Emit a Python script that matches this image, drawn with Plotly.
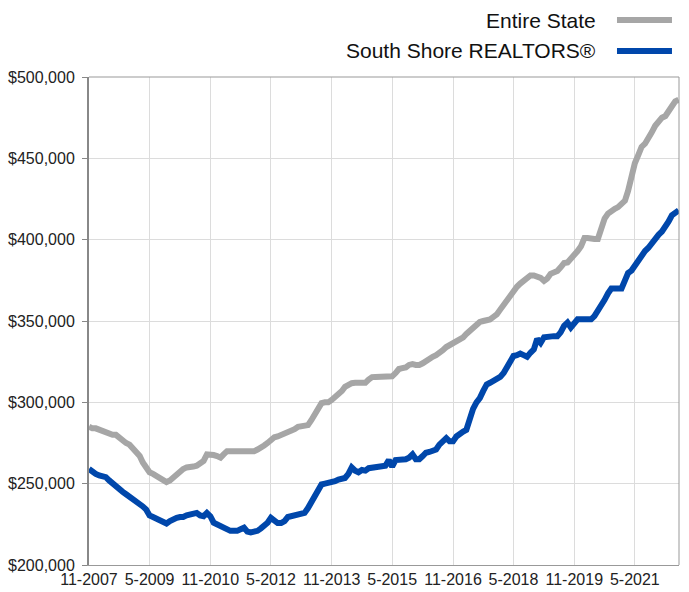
import pandas as pd
import plotly.graph_objects as go

# Monthly median price, Nov 2007 .. Jun 2022 (thousands of $)
months = pd.date_range(start="2007-11-01", periods=176, freq="MS")

entire_state = [
    285, 284, 284, 283, 283, 282, 281, 280, 280, 278,
    276, 275, 274, 272, 270, 267, 263, 260, 257, 256,
    255, 254, 253, 251, 252, 254, 256, 258, 259, 260,
    260, 260.5, 261, 262, 264, 268, 268, 267.6, 267, 266,
    268, 270, 270, 270, 270, 270, 270, 270, 270, 270,
    271, 272, 273.5, 275, 277, 278.5, 279, 280, 280, 281.5,
    282.5, 283.5, 285, 285.5, 285.5, 286, 289, 292, 296, 299.5,
    300, 300, 301.5, 303, 304.5, 307, 309.5, 311, 311.8, 312,
    312, 312, 312, 314, 315.5, 315.6, 315.6, 315.6, 315.6, 315.6,
    316, 318, 320.5, 321, 321.5, 323, 323.5, 323, 323, 324,
    325.5, 326.5, 328, 329, 330, 332, 334, 335, 336, 337.5,
    339, 340, 342, 344, 346, 348, 349.4, 350, 350.5, 351,
    352.5, 354, 357, 360, 363, 366, 368, 371, 373, 375,
    377, 378, 378, 377.6, 376.5, 374.6, 376, 379, 380, 380.7,
    383, 385.6, 386, 388, 390.5, 393, 396, 401, 401, 400.4,
    400.4, 400.4, 408, 413, 416, 418, 419, 420, 422, 424,
    430, 439, 447, 452, 457, 459, 462, 466, 470, 473,
    475, 476, 479.6, 482, 485, 486,
]

south_shore = [
    259, 257, 256, 255, 254.5, 254, 252, 250, 248.5, 247,
    245, 243.5, 242, 241, 239.5, 238, 236, 234, 230.5, 229.5,
    228.5, 227.5, 226, 225.5, 227, 228.5, 229, 229.5, 229.5, 230.5,
    230.7, 231.5, 232, 230.5, 230, 232, 230, 226, 225, 224,
    223, 221.5, 221, 221, 221, 222, 223, 220.5, 220, 220.5,
    221, 222.5, 224, 226, 229, 227, 225.8, 225.8, 227, 229.5,
    230, 230.2, 230.5, 230.7, 232, 235, 239, 243, 246, 249.5,
    250, 250.3, 250.4, 251.5, 252.5, 253, 253.5, 256, 260, 258,
    257, 258.4, 258, 259.5, 260, 260, 260.5, 261, 261, 264.5,
    260.5, 264.5, 264.5, 264.5, 265, 266, 268, 265, 265, 267,
    269, 269.5, 270.5, 271, 274, 276.5, 278, 276, 276, 279,
    280, 282, 283, 290, 296, 300, 302.6, 307, 311, 312,
    313, 314, 315.6, 318, 321, 324, 328.5, 329, 330, 329,
    328, 330.5, 332.5, 339, 336.5, 340, 340.5, 340.7, 340.7, 340.7,
    343, 347, 349, 346, 349, 351, 351, 351, 351, 351,
    353, 356, 360, 363, 367, 370, 370, 370, 370, 375,
    379.5, 381, 384, 387, 391, 393, 395, 398, 401, 403,
    405, 407.7, 411, 415, 416, 418,
]

tick_dates = ["2007-11-01", "2009-05-01", "2010-11-01", "2012-05-01", "2013-11-01",
              "2015-05-01", "2016-11-01", "2018-05-01", "2019-11-01", "2021-05-01"]
tick_labels = ["11-2007", "5-2009", "11-2010", "5-2012", "11-2013",
               "5-2015", "11-2016", "5-2018", "11-2019", "5-2021"]
y_ticks = [200000, 250000, 300000, 350000, 400000, 450000, 500000]

series_names = ["Entire State", "South Shore REALTORS®"]
series_colors = ["#a6a6a6", "#0047ab"]

fig = go.Figure()
for name, vals, col in zip(series_names, [entire_state, south_shore], series_colors):
    fig.add_trace(go.Scatter(
        x=months, y=[v * 1000 for v in vals], mode="lines", name=name,
        line=dict(color=col, width=6), showlegend=False,
    ))

font = "Liberation Sans, Arial, Helvetica, sans-serif"
fig.update_layout(
    width=689, height=592,
    margin=dict(l=89, r=10, t=77, b=27, autoexpand=False),
    paper_bgcolor="white", plot_bgcolor="white",
    font=dict(family=font, color="#222", size=16),
    xaxis=dict(
        range=["2007-11-01", "2022-06-04"],
        tickvals=tick_dates, ticktext=tick_labels,
        showgrid=True, gridcolor="#dcdcdc", gridwidth=1,
        showline=True, linecolor="#999", linewidth=1,
        ticks="", tickfont=dict(size=16, color="#222"),
        zeroline=False, automargin=False,
    ),
    yaxis=dict(
        range=[200000, 500000], tickvals=y_ticks, tickformat="$,.0f",
        showgrid=True, gridcolor="#dcdcdc", gridwidth=1,
        showline=True, linecolor="#888", linewidth=2,
        ticks="outside", ticklen=5, tickcolor="#888",
        ticklabelstandoff=4,
        tickfont=dict(size=16, color="#222"), zeroline=False, automargin=False,
    ),
)

# border top/right
fig.add_shape(type="line", xref="paper", yref="paper", x0=0, x1=1, y0=1, y1=1,
              line=dict(color="#999", width=1))
fig.add_shape(type="line", xref="paper", yref="paper", x0=1, x1=1, y0=0, y1=1,
              line=dict(color="#999", width=1))

# legend (text left, swatch right)
leg_y = [1.1168, 1.0533]
for name, col, yy in zip(series_names, series_colors, leg_y):
    fig.add_annotation(x=0.8627, y=yy, xref="paper", yref="paper", text=name,
                       showarrow=False, xanchor="right", yanchor="middle",
                       font=dict(size=21, color="#111", family=font))
    fig.add_shape(type="line", xref="paper", yref="paper", x0=0.8949, x1=0.9881,
                  y0=yy, y1=yy, line=dict(color=col, width=6))

fig.write_html(
    "out.html",
    config={"displayModeBar": False},
    post_script="document.body.style.margin='0';document.body.style.overflow='hidden';",
)
